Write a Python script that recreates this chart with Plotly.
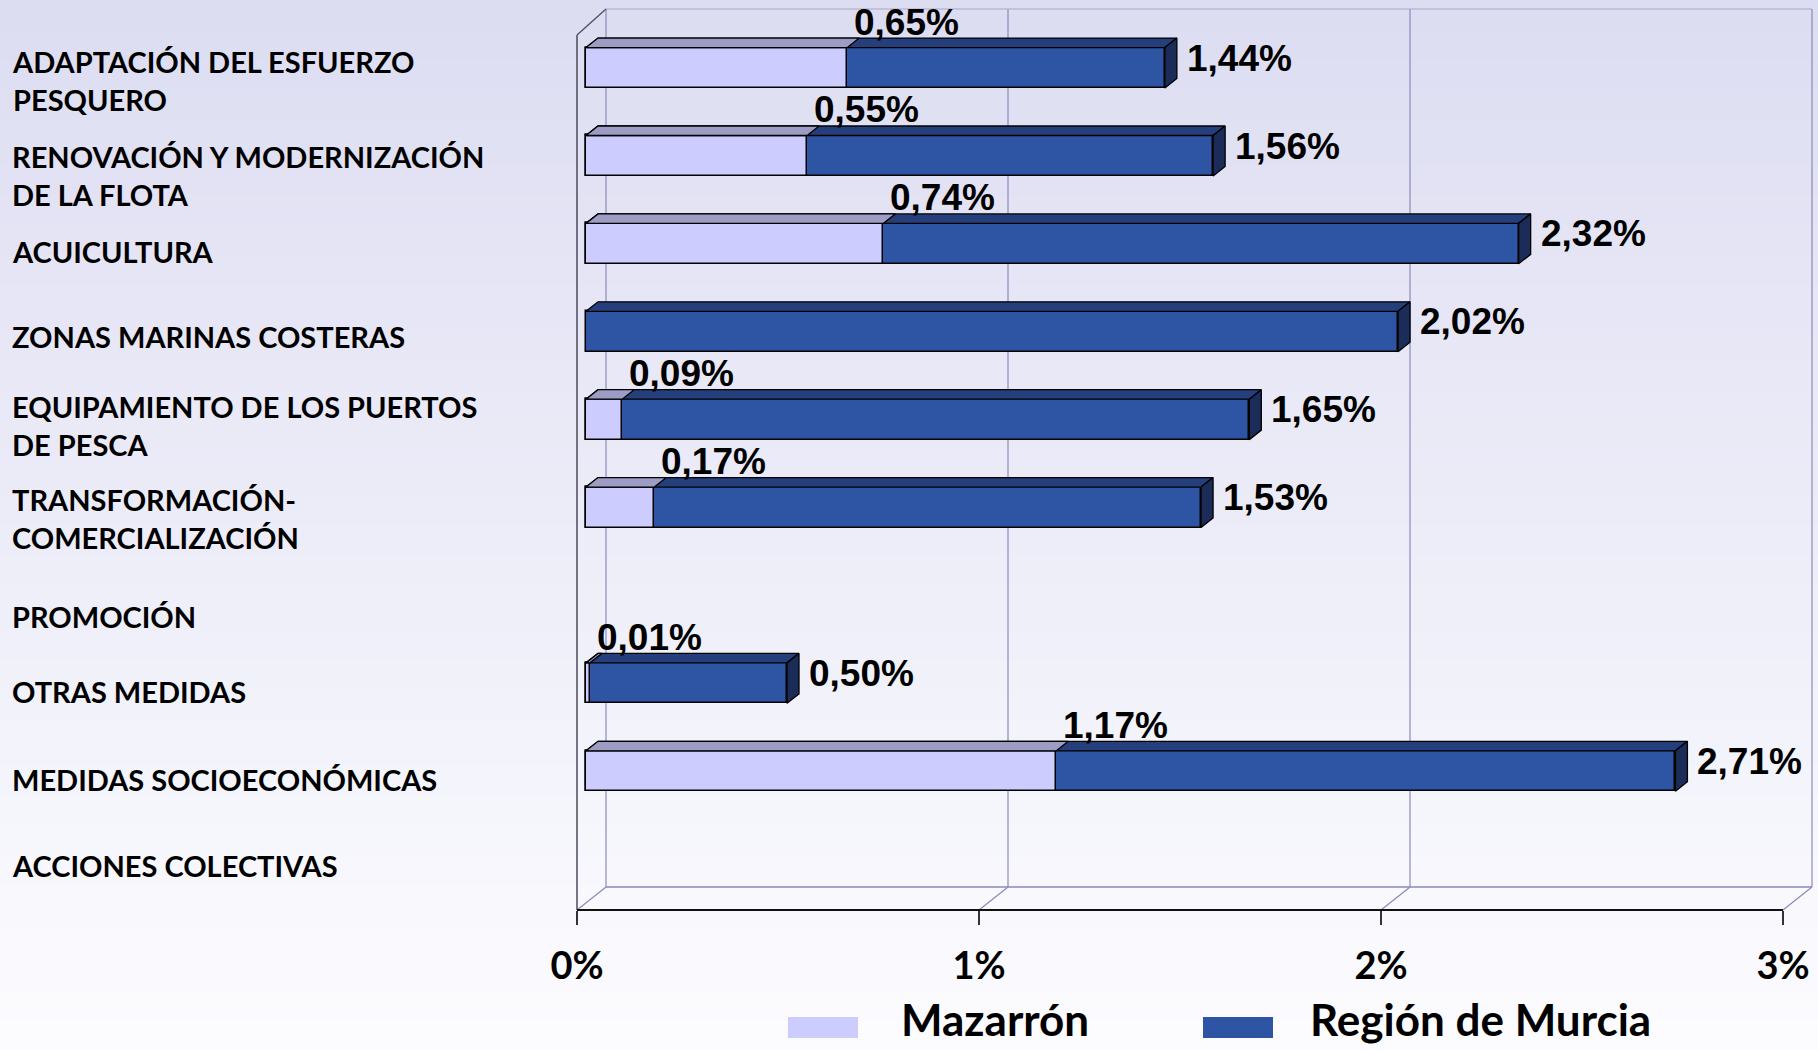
import plotly.graph_objects as go

# ---------------- data ----------------
categories = [
    "ADAPTACIÓN DEL ESFUERZO<br>PESQUERO",
    "RENOVACIÓN Y MODERNIZACIÓN<br>DE LA FLOTA",
    "ACUICULTURA",
    "ZONAS MARINAS COSTERAS",
    "EQUIPAMIENTO DE LOS PUERTOS<br>DE PESCA",
    "TRANSFORMACIÓN-<br>COMERCIALIZACIÓN",
    "PROMOCIÓN",
    "OTRAS MEDIDAS",
    "MEDIDAS SOCIOECONÓMICAS",
    "ACCIONES COLECTIVAS",
]
mazarron = [0.65, 0.55, 0.74, None, 0.09, 0.17, None, 0.01, 1.17, None]
murcia = [1.44, 1.56, 2.32, 2.02, 1.65, 1.53, None, 0.50, 2.71, None]
x_ticks = [0, 1, 2, 3]
x_tick_labels = ["0%", "1%", "2%", "3%"]
series_names = ["Mazarrón", "Región de Murcia"]

# ---------------- layout geometry (pixels) ----------------
W, H = 1818, 1050
PX_PER_UNIT = 402.0
X0_PX = 586.0          # bar front-face zero
ROW_PX = 87.9
ROW0_PX = 67.8
PLOT_BOTTOM_PX = 910.0
BAR_W = 0.46
BAR_DX_PX, BAR_DY_PX = 12.0, 9.5
FRONT_DX_PX, BACK_DX_PX = -9.0, 20.0
FRONT_FLOOR_PX, BACK_FLOOR_PX = 910.0, 887.0
FRONT_TOP_PX, BACK_TOP_PX = 35.0, 9.0

LIGHT = "#CCCCFF"
LIGHT_TOP = "#9C9CC4"
DARK = "#2E55A3"
DARK_TOP = "#243F7B"
DARK_SIDE = "#1B2C58"
GRID = "#8A8ABB"


def dx(px):
    return px / PX_PER_UNIT


def dy(px):
    return px / ROW_PX


def pap(py):
    return 1 - py / H


xr = [-X0_PX / PX_PER_UNIT, (W - X0_PX) / PX_PER_UNIT]
yr = [(PLOT_BOTTOM_PX - ROW0_PX) / ROW_PX, -ROW0_PX / ROW_PX]
idx = list(range(len(categories)))

fig = go.Figure()

# front faces
fig.add_trace(go.Bar(y=idx, x=murcia, base=0, orientation="h", width=BAR_W,
                     name=series_names[1], showlegend=False,
                     marker=dict(color=DARK, line=dict(color="black", width=1.5))))
fig.add_trace(go.Bar(y=idx, x=mazarron, base=0, orientation="h", width=BAR_W,
                     name=series_names[0], showlegend=False,
                     marker=dict(color=LIGHT, line=dict(color="black", width=1.5))))

ddx, ddy = dx(BAR_DX_PX), dy(BAR_DY_PX)


def top_face(vals):
    xs, ys = [], []
    for i, v in zip(idx, vals):
        if v is None:
            continue
        yt = i - BAR_W / 2
        xs += [0, v, v + ddx, ddx, 0, None]
        ys += [yt, yt, yt - ddy, yt - ddy, yt, None]
    return xs, ys


def side_face(vals):
    xs, ys = [], []
    for i, v in zip(idx, vals):
        if v is None:
            continue
        yt = i - BAR_W / 2
        yb = i + BAR_W / 2
        xs += [v, v + ddx, v + ddx, v, v, None]
        ys += [yt, yt - ddy, yb - ddy, yb, yt, None]
    return xs, ys


for (xs, ys), col in [(top_face(murcia), DARK_TOP), (side_face(murcia), DARK_SIDE),
                      (top_face(mazarron), LIGHT_TOP)]:
    fig.add_trace(go.Scatter(x=xs, y=ys, mode="lines", fill="toself", fillcolor=col,
                             line=dict(color="black", width=1.3), hoverinfo="skip",
                             showlegend=False))

shapes = []
# background gradient
N = 70
top_c, bot_c = (221, 221, 242), (252, 252, 255)
for k in range(N):
    t = k / (N - 1)
    c = tuple(round(top_c[j] + (bot_c[j] - top_c[j]) * t) for j in range(3))
    shapes.append(dict(type="rect", xref="paper", yref="paper", layer="below",
                       x0=0, x1=1, y0=1 - (k + 1) / N, y1=1 - k / N,
                       fillcolor="rgb(%d,%d,%d)" % c, line=dict(width=0)))

fx = lambda k: k + dx(FRONT_DX_PX)
bx = lambda k: k + dx(BACK_DX_PX)


def line(x0, y0, x1, y1, color, width=1.2):
    shapes.append(dict(type="line", xref="x", yref="paper", layer="below",
                       x0=x0, y0=pap(y0), x1=x1, y1=pap(y1),
                       line=dict(color=color, width=width)))


# back wall gridlines
for k in x_ticks:
    line(bx(k), BACK_FLOOR_PX, bx(k), BACK_TOP_PX, GRID, 1.2)
    line(fx(k), FRONT_FLOOR_PX, bx(k), BACK_FLOOR_PX, GRID, 1.2)
line(bx(x_ticks[0]), BACK_TOP_PX, bx(x_ticks[-1]), BACK_TOP_PX, "#A8A8CC", 1.2)
line(bx(x_ticks[0]), BACK_FLOOR_PX, bx(x_ticks[-1]), BACK_FLOOR_PX, GRID, 1.5)
# left wall
line(fx(0), FRONT_TOP_PX, fx(0), FRONT_FLOOR_PX, "#4A4A5A", 1.5)
line(fx(0), FRONT_TOP_PX, bx(0), BACK_TOP_PX, "#4A4A5A", 1.2)
# front floor line
line(fx(x_ticks[0]), FRONT_FLOOR_PX, fx(x_ticks[-1]), FRONT_FLOOR_PX, "#111111", 1.8)

# legend
legend_items = [(LIGHT, 788, 858, 899), (DARK, 1203, 1273, 1308)]
annotations = []
for name, (col, x0, x1, tx) in zip(series_names, legend_items):
    shapes.append(dict(type="rect", xref="paper", yref="paper",
                       x0=x0 / W, x1=x1 / W, y0=pap(1038), y1=pap(1017),
                       fillcolor=col, line=dict(width=0)))
    annotations.append(dict(xref="paper", yref="paper", x=tx / W, y=pap(1019),
                            xanchor="left", yanchor="middle", text=name, showarrow=False,
                            font=dict(family="Lato", size=44, color="black", weight="bold")))

# category labels
label_nudge = [0.15, 0.23, 0.09, 0.06, 0.07, 0.13, 0.24, 0.09, 0.10, 0.07]
for i, (cat, nud) in enumerate(zip(categories, label_nudge)):
    annotations.append(dict(xref="paper", yref="y", x=10 / W, y=i + nud,
                            xanchor="left", yanchor="middle", align="left",
                            text=cat, showarrow=False,
                            font=dict(family="Lato", size=29, color="black", weight="bold")))

VAL_FONT = dict(family="Liberation Sans, Arial", size=37, color="black", weight="bold")
for i, m in zip(idx, mazarron):
    if m is None:
        continue
    annotations.append(dict(x=m, y=i - 0.52, xref="x", yref="y", xanchor="left",
                            yanchor="middle", xshift=5, showarrow=False,
                            text=f"{m:.2f}".replace(".", ",") + "%", font=VAL_FONT))
for i, v in zip(idx, murcia):
    if v is None:
        continue
    annotations.append(dict(x=v, y=i - 0.11, xref="x", yref="y", xanchor="left",
                            yanchor="middle", xshift=20, showarrow=False,
                            text=f"{v:.2f}".replace(".", ",") + "%", font=VAL_FONT))

fig.update_layout(
    width=W, height=H, margin=dict(l=0, r=0, t=0, b=0, pad=0),
    barmode="overlay", bargap=0,
    paper_bgcolor="rgb(252,252,255)", plot_bgcolor="rgba(0,0,0,0)",
    shapes=shapes, annotations=annotations, showlegend=False,
    xaxis=dict(domain=[0, 1], range=xr, showgrid=False, zeroline=False, showline=False,
               tickvals=[fx(k) for k in x_ticks], ticktext=x_tick_labels,
               ticks="outside", ticklen=14, tickwidth=1.5, tickcolor="#333333",
               ticklabelstandoff=8,
               tickfont=dict(family="Lato", size=38, color="black", weight="bold"),
               fixedrange=True),
    yaxis=dict(domain=[1 - PLOT_BOTTOM_PX / H, 1], range=yr, visible=False,
               fixedrange=True),
)

fig.write_html("out.html", config={"displayModeBar": False},
               post_script="document.body.style.margin='0';document.body.style.overflow='hidden';")
